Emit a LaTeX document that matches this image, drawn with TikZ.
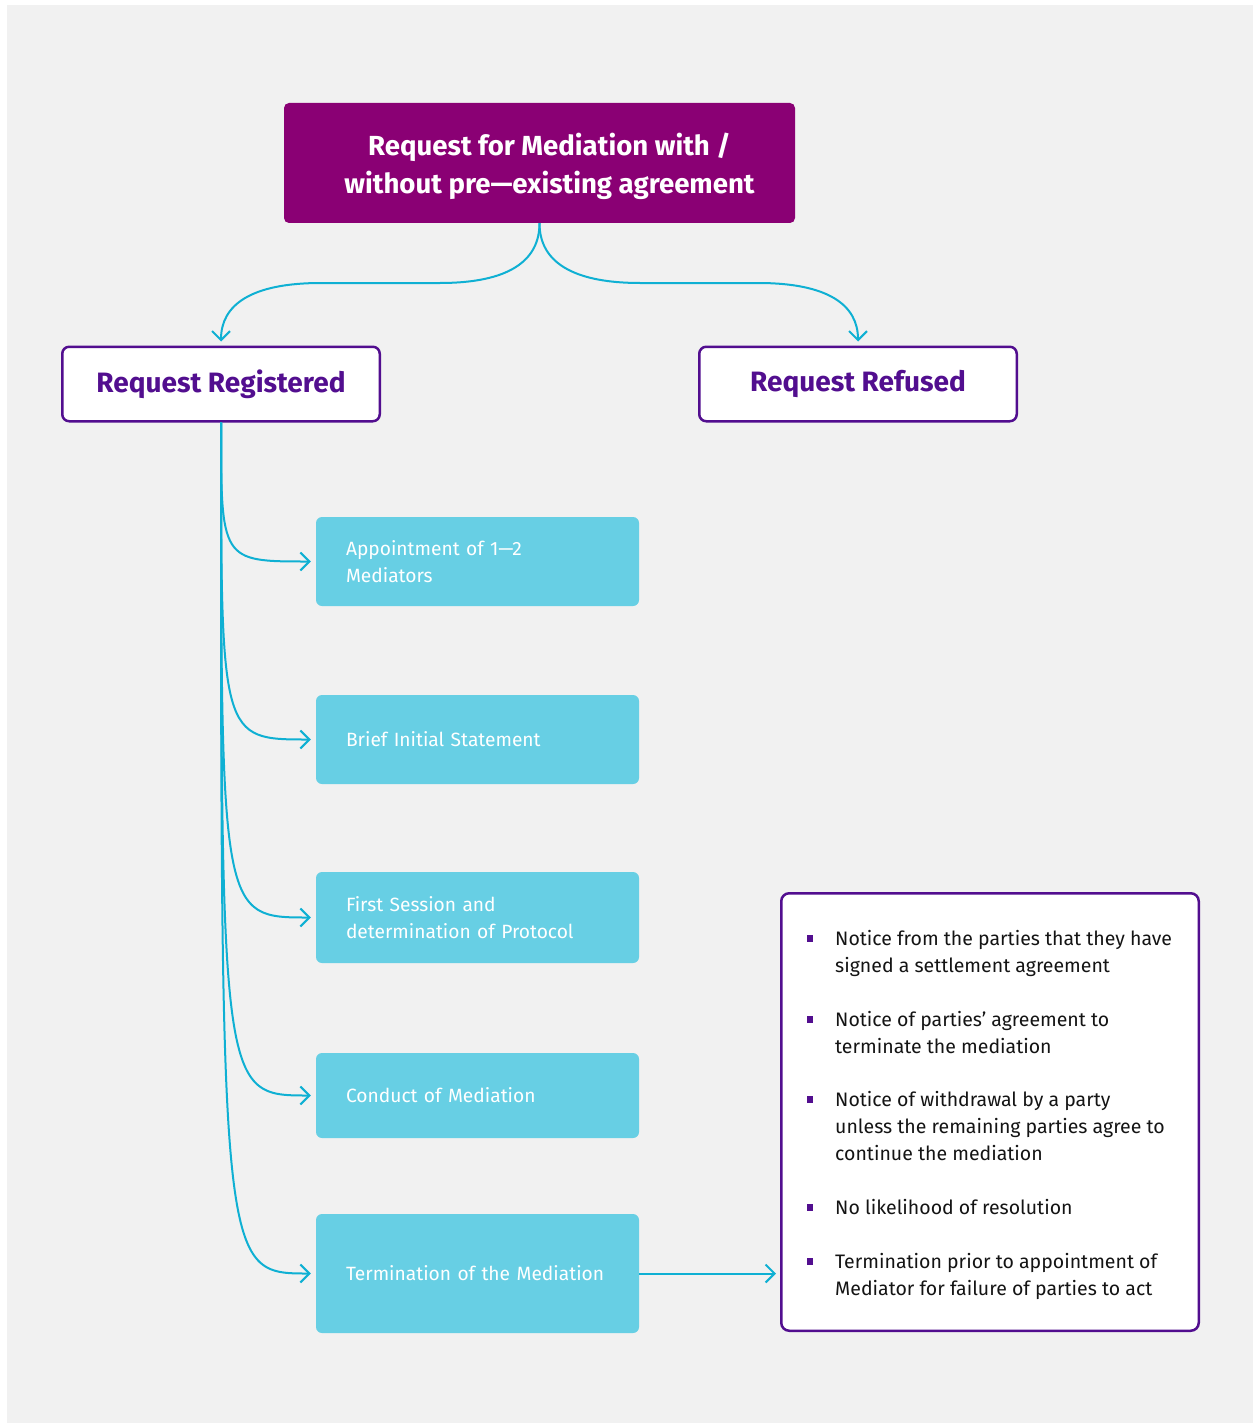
\documentclass[tikz,border=0pt]{standalone}
\usepackage{fontspec}
\setmainfont{Fira Sans}
\usetikzlibrary{arrows.meta,calc}
\definecolor{bgray}{HTML}{F1F1F1}
\definecolor{plum}{HTML}{8A0074}
\definecolor{deepviolet}{HTML}{520E8F}
\definecolor{flowcyan}{HTML}{0FB0D3}
\definecolor{boxcyan}{HTML}{67CFE4}
\definecolor{inktext}{HTML}{141414}
\begin{document}
\begin{tikzpicture}[x=1pt,y=-1pt,
  headbox/.style={fill=plum, rounded corners=5pt, minimum width=511pt, minimum height=120pt,
    inner sep=0pt, text depth=0pt, text=white, align=center, font=\fontsize{27.6}{38}\selectfont\bfseries},
  outcome/.style={draw=deepviolet, line width=2.5pt, fill=white, rounded corners=7pt,
    minimum width=317.5pt, minimum height=74.5pt, inner sep=0pt, text=deepviolet,
    font=\fontsize{28}{34}\selectfont\bfseries},
  stepbox/.style={fill=boxcyan, rounded corners=6pt, text width=263pt, inner xsep=30pt,
    inner ysep=0pt, align=left, text=white, font=\fontsize{19.2}{27}\selectfont},
  condbox/.style={draw=deepviolet, line width=2.5pt, fill=white, rounded corners=8pt,
    minimum width=417.5pt, minimum height=437.5pt, inner sep=0pt},
  conditem/.style={anchor=base west, inner sep=0pt, align=left, text=inktext,
    font=\fontsize{19.5}{27}\selectfont},
  bulletmark/.style={fill=deepviolet, minimum size=6.5pt, inner sep=0pt},
  conn/.style={draw=flowcyan, line width=2pt, -{Straight Barb[length=9pt,width=18pt]}},
]
\useasboundingbox (0,0) rectangle (1253,1423);
\fill[white] (0,0) rectangle (1253,1423);
\fill[bgray] (7,5) rectangle (1253,1423);

% top request
\node[headbox] (top) at (539.5,163)
  {\hspace*{20pt}Request for Mediation with /\\\hspace*{20pt}without pre—existing agreement};

% outcomes of the request
\node[outcome] (reg) at (221,384) {\raisebox{-2pt}{Request Registered}};
\node[outcome] (ref) at (858,384) {\raisebox{-2pt}{Request Refused}};

% stages of the mediation
\node[stepbox, minimum height=89pt] (b1) at (477.5,561.5) {Appointment of 1—2\\Mediators};
\node[stepbox, minimum height=89pt] (b2) at (477.5,739.5) {Brief Initial Statement};
\node[stepbox, minimum height=91pt] (b3) at (477.5,917.5) {First Session and\\determination of Protocol};
\node[stepbox, minimum height=85pt] (b4) at (477.5,1095.5) {Conduct of Mediation};
\node[stepbox, minimum height=119pt] (b5) at (477.5,1273.5) {Termination of the Mediation};

% grounds for termination (anchored at the baseline of each item's last line)
\node[condbox] (conds) at (990,1112) {};
\node[bulletmark] (m1) at (810,938.5) {};
\node[conditem] (c1) at (835,972) {Notice from the parties that they have\\signed a settlement agreement};
\node[bulletmark] (m2) at (810,1019.5) {};
\node[conditem] (c2) at (835,1053) {Notice of parties’ agreement to\\terminate the mediation};
\node[bulletmark] (m3) at (810,1099.5) {};
\node[conditem] (c3) at (835,1160) {Notice of withdrawal by a party\\unless the remaining parties agree to\\continue the mediation};
\node[bulletmark] (m4) at (810,1207.5) {};
\node[conditem] (c4) at (835,1214) {No likelihood of resolution};
\node[bulletmark] (m5) at (810,1261.5) {};
\node[conditem] (c5) at (835,1295) {Termination prior to appointment of\\Mediator for failure of parties to act};

% branching from the request
\coordinate (lh1) at (440,283);
\coordinate (lh2) at (321,283);
\coordinate (rh1) at (640,283);
\coordinate (rh2) at (758,283);
\draw[conn, shorten >=4pt] (top.south) .. controls ($(top.south)+(0,48)$) and (490,283) .. (lh1)
  -- (lh2) .. controls (250,283) and ($(reg.north)+(0,-40)$) .. (reg.north);
\draw[conn, shorten >=4pt] (top.south) .. controls ($(top.south)+(0,48)$) and (590,283) .. (rh1)
  -- (rh2) .. controls (829,283) and ($(ref.north)+(0,-40)$) .. (ref.north);

% registered request leads to each stage
\foreach \b in {b1,b2,b3,b4,b5}{
  \draw[conn, shorten >=5pt] (reg.south) .. controls (reg.south |- \b.west) and (reg.south |- \b.west) .. (\b.west);
}

% termination and its grounds
\draw[conn, shorten >=4pt] (b5.east) -- (b5.east -| conds.west);
\end{tikzpicture}
\end{document}
